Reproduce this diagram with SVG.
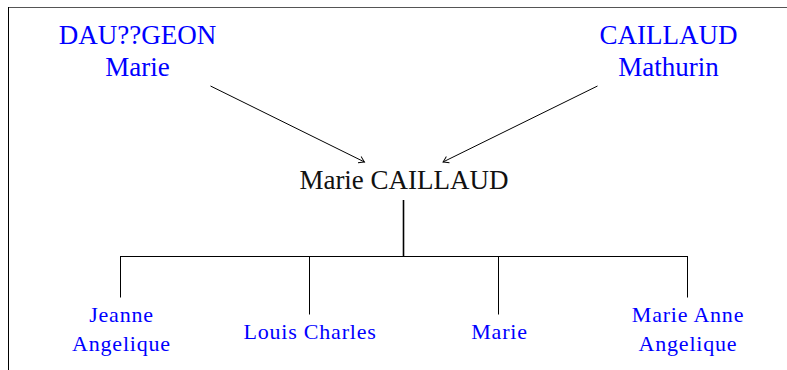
<svg xmlns="http://www.w3.org/2000/svg" width="787" height="370" viewBox="0 0 787 370">
<style>
  text { font-family: 'Liberation Serif', 'Times New Roman', Times, 'DejaVu Serif', serif; text-anchor: middle; }
  .big { font-size: 27px; }
  .small { font-size: 22px; letter-spacing: 0.8px; }
  .blue { fill: #0000ff; }
  .black { fill: #111111; }
  .edge { stroke: #000; stroke-width: 1; fill: none; }
</style>
<defs>
  <marker id="arr" markerUnits="userSpaceOnUse" markerWidth="12" markerHeight="12" viewBox="-8 -6 10 12" refX="0" refY="0" orient="auto">
    <path d="M -5.5 -3.5 Q -1.5 -0.8 0 0 Q -1.5 0.8 -5.5 3.5" fill="none" stroke="#000" stroke-width="0.9"/>
  </marker>
</defs>
<rect width="787" height="370" fill="#fff"/>
<g id="frame">
  <line x1="8" y1="7.5" x2="787" y2="7.5" stroke="#555" stroke-width="1"/>
  <line x1="8.5" y1="7" x2="8.5" y2="370" stroke="#000" stroke-width="1"/>
</g>
<g id="connectors">
  <line class="edge" x1="210.5" y1="86" x2="364.5" y2="162" marker-end="url(#arr)"/>
  <line class="edge" x1="597.5" y1="86" x2="443" y2="162" marker-end="url(#arr)"/>
  <line x1="403.5" y1="200" x2="403.5" y2="256" stroke="#000" stroke-width="1.6"/>
  <line class="edge" x1="120" y1="256.5" x2="687.5" y2="256.5"/>
  <line class="edge" x1="120.5" y1="256" x2="120.5" y2="297.5"/>
  <line class="edge" x1="309.5" y1="256" x2="309.5" y2="314.5"/>
  <line class="edge" x1="498.5" y1="256" x2="498.5" y2="314.5"/>
  <line class="edge" x1="687.5" y1="256" x2="687.5" y2="297.5"/>
</g>
<g id="daugeon-marie">
  <text class="big blue" x="137.5" y="44" font-family="Liberation Serif, serif">DAU??GEON</text>
  <text class="big blue" x="137.5" y="76" font-family="Liberation Serif, serif">Marie</text>
</g>
<g id="caillaud-mathurin">
  <text class="big blue" x="668.5" y="44">CAILLAUD</text>
  <text class="big blue" x="668.5" y="76">Mathurin</text>
</g>
<g id="marie-caillaud">
  <text class="big black" x="404" y="188.5">Marie CAILLAUD</text>
</g>
<g id="jeanne-angelique">
  <text class="small blue" x="121.5" y="321.5">Jeanne</text>
  <text class="small blue" x="121.5" y="351">Angelique</text>
</g>
<g id="louis-charles">
  <text class="small blue" x="310" y="338.5">Louis Charles</text>
</g>
<g id="marie">
  <text class="small blue" x="499.5" y="338.5">Marie</text>
</g>
<g id="marie-anne-angelique">
  <text class="small blue" x="688" y="321.5">Marie Anne</text>
  <text class="small blue" x="688" y="351">Angelique</text>
</g>
</svg>
